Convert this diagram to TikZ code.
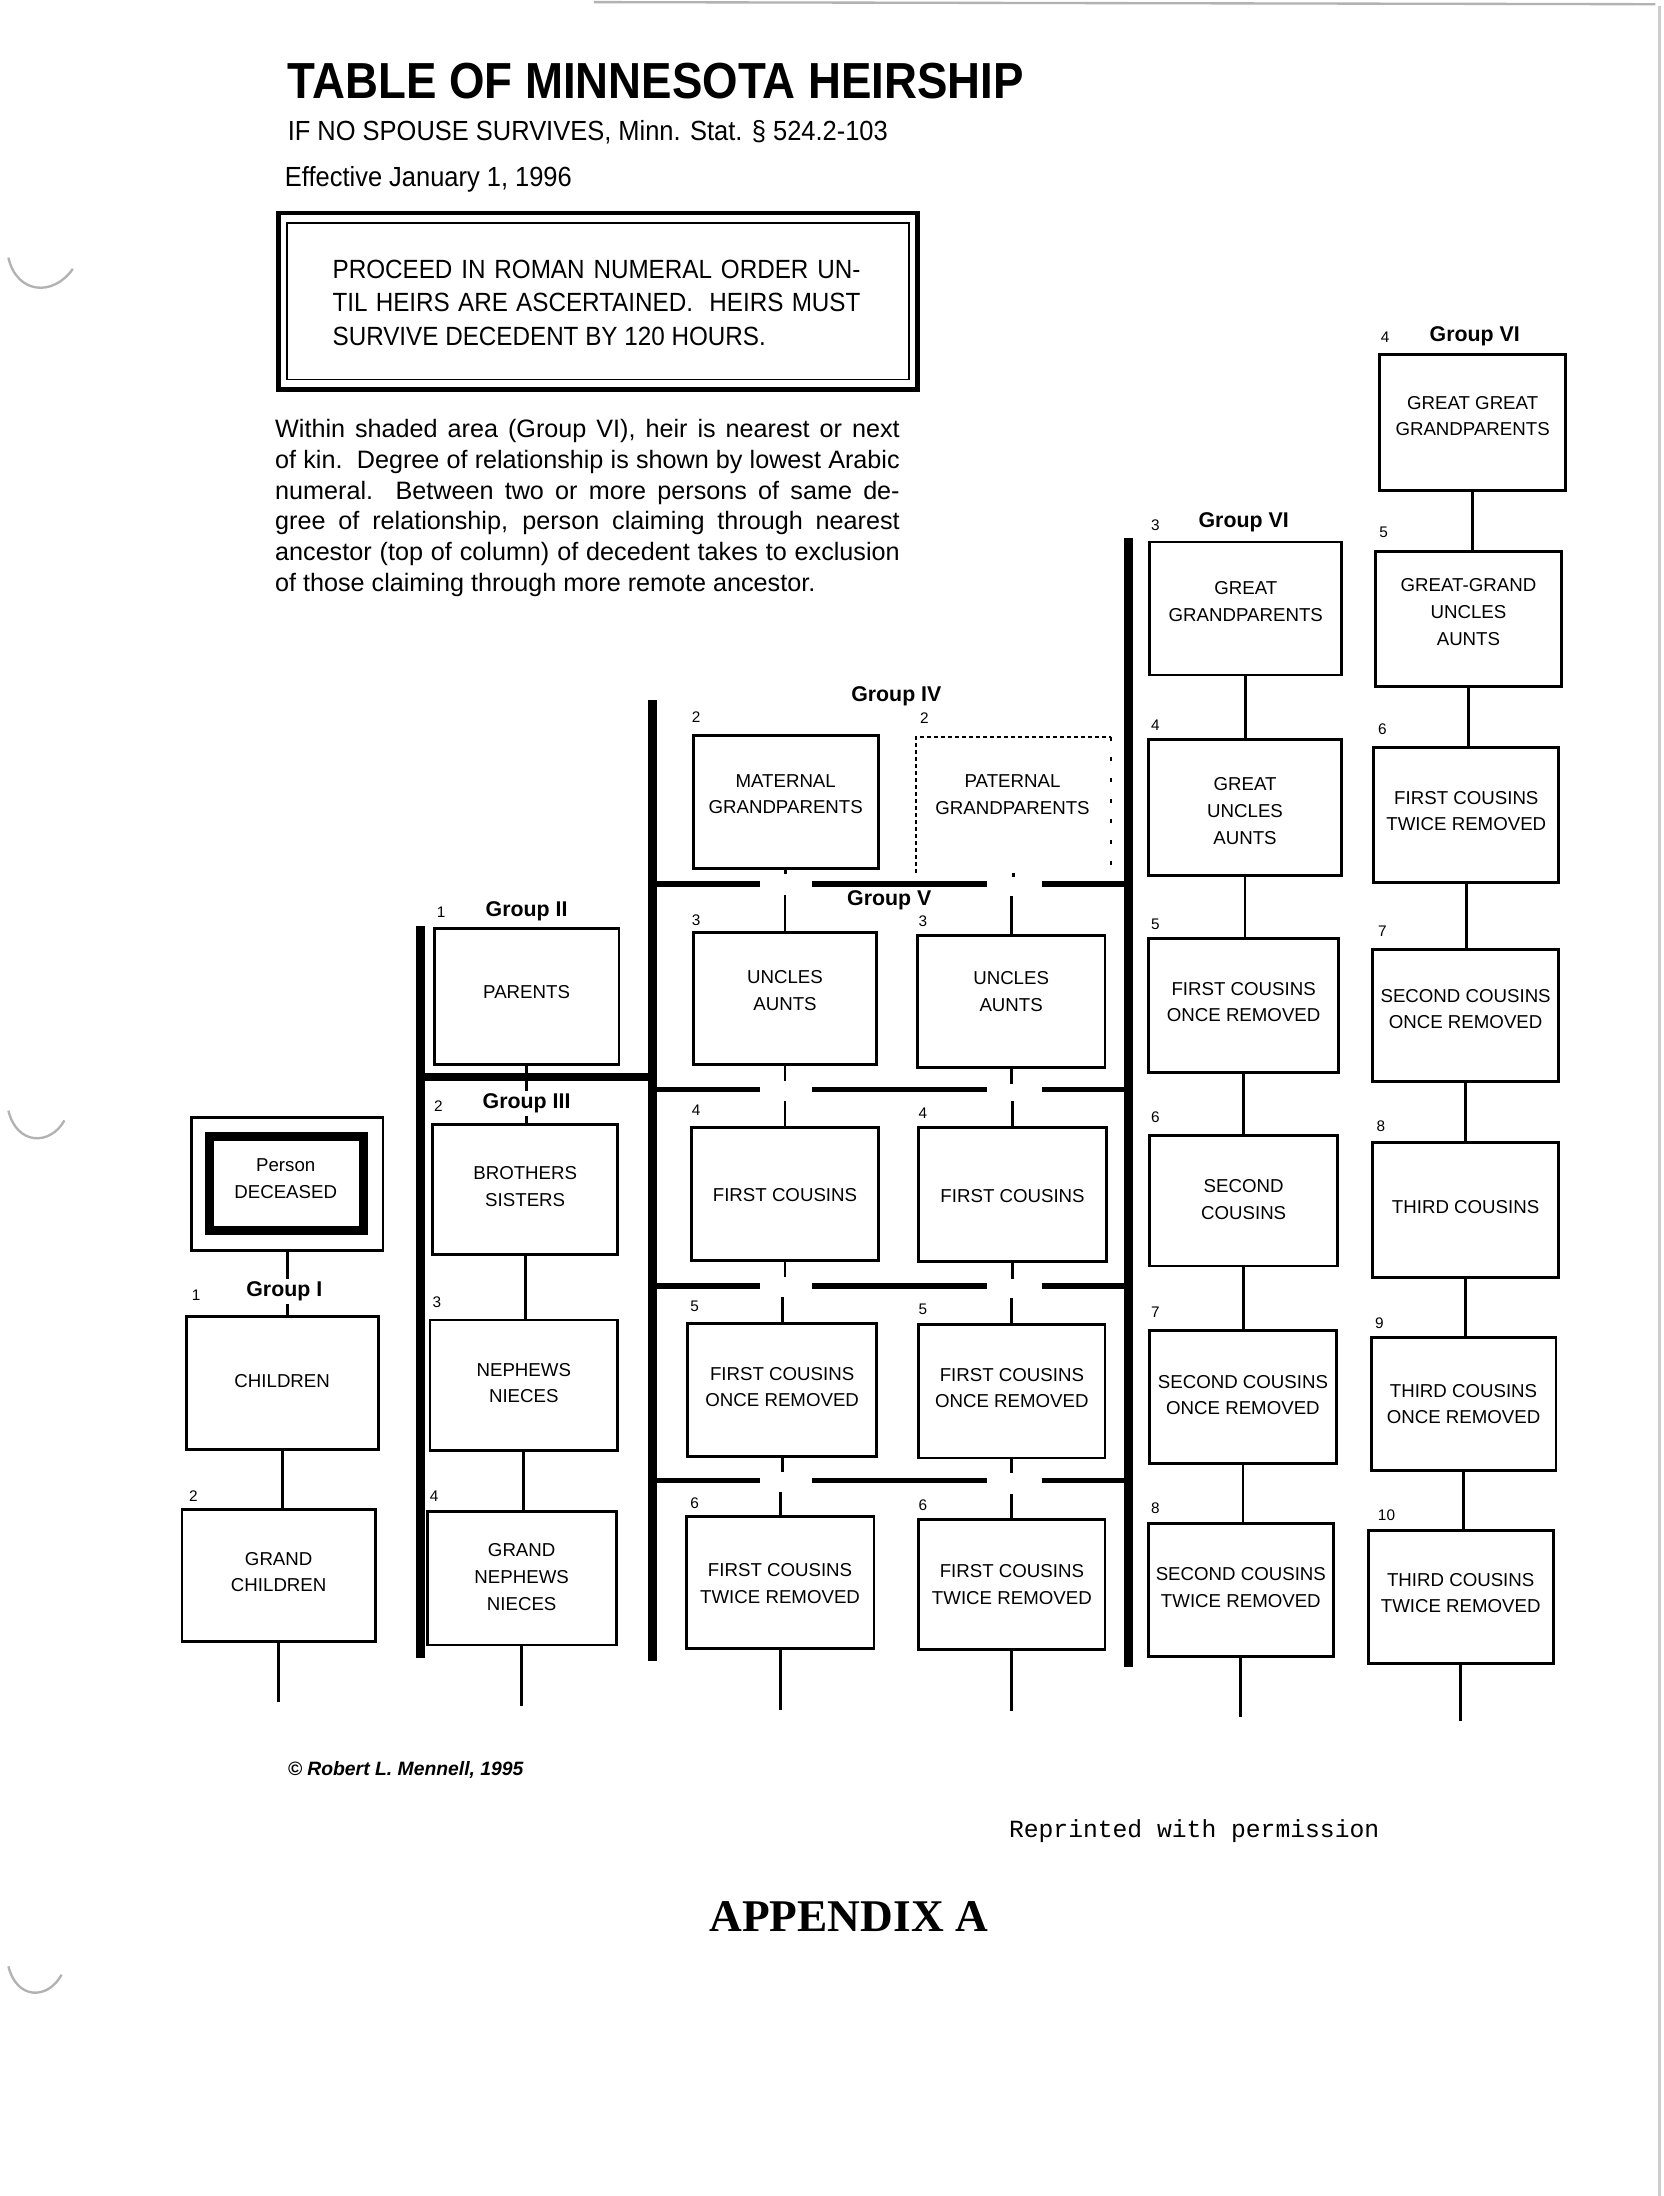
\documentclass[tikz,border=0pt]{standalone}
\usepackage{fontspec}
\setmainfont{Liberation Sans}
\newfontfamily\myhdr[FakeStretch=0.92]{Liberation Sans}
\newfontfamily\myttl[FakeStretch=0.9]{Liberation Sans}
\newfontfamily\mymono{Liberation Mono}
\newfontfamily\myserif{Liberation Serif}
\newcommand\pxu{*0.42pt}
% name, x, y, width, height, text-centre y, text
\newcommand\kinbox[7]{\node[kin, minimum width=#4\pxu, minimum height=#5\pxu] (#1) at (#2,#3) {};
  \node[kintext] (#1t) at (#2,#6) {#7};}
\newcommand\degnum[4]{\node[deg] (#1) at (#2,#3) {#4};}
\begin{document}
\begin{tikzpicture}[x=0.42pt,y=-0.42pt,
  kin/.style={draw, line width=0.85pt, inner sep=0pt},
  kintext/.style={align=center, inner sep=0pt, font=\fontsize{5.6}{8}\selectfont},
  grp/.style={font=\bfseries\fontsize{6.4}{7}\selectfont, inner sep=0.8pt},
  grpw/.style={grp, fill=white},
  deg/.style={font=\fontsize{4.6}{5}\selectfont, inner sep=0pt},
  bar/.style={line width=2.7pt},
  divider/.style={line width=1.7pt},
  conn/.style={line width=0.85pt},
  artifact/.style={line width=0.7pt, black!30}]
\fill[white] (0,0) rectangle (1188,1568);
\useasboundingbox (0,0) rectangle (1188,1568);

% scan artifacts (page edges, punch-hole shadows)
\draw[artifact] (424,1.5) -- (1182,3);
\draw[artifact, black!20] (1185,4) -- (1185,1568);
\draw[artifact] (6,184) .. controls (12,210) and (38,212) .. (52,192);
\draw[artifact] (6,793) .. controls (12,818) and (36,818) .. (46,800);
\draw[artifact] (6,1404) .. controls (12,1428) and (34,1428) .. (44,1410);

% header
\node[anchor=base west, inner sep=0pt, font=\myttl\bfseries\fontsize{15.2}{18}\selectfont] (title) at (205,70) {TABLE OF MINNESOTA HEIRSHIP};
\node[anchor=base west, inner sep=0pt, font=\myhdr\fontsize{8.3}{10}\selectfont] (subtitle) at (205,100) {IF NO SPOUSE SURVIVES, Minn. Stat. § 524.2-103};
\node[anchor=base west, inner sep=0pt, font=\myhdr\fontsize{8.3}{10}\selectfont] (effective) at (203,133) {Effective January 1, 1996};

% note box
\node[draw, line width=1.4pt, minimum width=456\pxu, minimum height=126\pxu, inner sep=0pt] (notebox) at (427,215) {};
\node[draw, line width=0.5pt, minimum width=444\pxu, minimum height=112\pxu, inner sep=0pt] (noteinner) at (427,215) {};
\node[anchor=north west, inner sep=0pt, text width=158.3pt, align=justify, font=\myhdr\fontsize{7.9}{10.1}\selectfont] (note) at (237,185)
  {PROCEED IN ROMAN NUMERAL ORDER UN-\linebreak TIL HEIRS ARE ASCERTAINED.\ \ HEIRS MUST\linebreak SURVIVE DECEDENT BY 120 HOURS.};

% paragraph
\node[anchor=north west, inner sep=0pt, text width=187.3pt, align=justify, font=\fontsize{7.55}{9.2}\selectfont] (para) at (196,299)
  {Within shaded area (Group VI), heir is nearest or next\linebreak of kin.\ \ Degree of relationship is shown by lowest Arabic\linebreak numeral.\ \ Between two or more persons of same de-\linebreak gree of relationship, person claiming through nearest\linebreak ancestor (top of column) of decedent takes to exclusion\linebreak of those claiming through more remote ancestor.};

% ---------- Group I ----------
\node[draw, line width=0.85pt, minimum width=137\pxu, minimum height=95\pxu, inner sep=0pt] (dec) at (205,845.5) {};
\node[draw, line width=2.9pt, minimum width=110\pxu, minimum height=67\pxu, inner sep=0pt] (decin) at (204.5,845) {};
\node[kintext] (dect) at (204,841.5) {Person\\DECEASED};
\kinbox{children}{201.5}{987.5}{137}{95}{986}{CHILDREN}
\kinbox{grandch}{199}{1125}{138}{94}{1122.5}{GRAND\\CHILDREN}
\coordinate (tailI) at (200,1215);
\draw[conn] (dec.south) -- (dec.south |- children.north);
\draw[conn] (children.south) -- (children.south |- grandch.north);
\draw[conn] (grandch.south) -- (grandch.south |- tailI);
\node[grpw] (gI) at (203,922) {Group I};
\degnum{dIa}{140}{925}{1}
\degnum{dIb}{138}{1068}{2}

% ---------- Group II / III ----------
\coordinate (barAt) at (300,661); \coordinate (barAb) at (300,1184);
\draw[bar] (barAt) -- (barAb);
\coordinate (divAl) at (300,769); \coordinate (divAr) at (466,769);
\draw[line width=2.2pt] (divAl) -- (divAr);
\kinbox{parents}{376}{711.5}{132}{97}{708}{PARENTS}
\kinbox{brothers}{375}{849.5}{132}{93}{847}{BROTHERS\\SISTERS}
\kinbox{nephews}{374}{989}{134}{93}{987.5}{NEPHEWS\\NIECES}
\kinbox{grandneph}{372.5}{1127}{135}{95}{1126}{GRAND\\NEPHEWS\\NIECES}
\coordinate (tailII) at (371,1218);
\draw[conn] (parents.south) -- (parents.south |- brothers.north);
\draw[conn] (brothers.south) -- (brothers.south |- nephews.north);
\draw[conn] (nephews.south) -- (nephews.south |- grandneph.north);
\draw[conn] (grandneph.south) -- (grandneph.south |- tailII);
\node[grp] (gII) at (376,651) {Group II};
\node[grpw] (gIII) at (376,788) {Group III};
\degnum{dIIa}{315}{651}{1}
\degnum{dIIb}{313}{790}{2}
\degnum{dIIc}{312}{930}{3}
\degnum{dIId}{310}{1068}{4}

% ---------- Group IV / V ----------
\coordinate (barBt) at (466,500); \coordinate (barBb) at (466,1186);
\coordinate (barCt) at (806,384); \coordinate (barCb) at (806,1190);
\draw[bar] (barBt) -- (barBb);
\draw[bar] (barCt) -- (barCb);
\foreach \yy in {631,778,918,1057} {
  \draw[divider] (466,\yy) -- (543,\yy);
  \draw[divider] (580,\yy) -- (705,\yy);
  \draw[divider] (744,\yy) -- (806,\yy);
}
\node[grp] (gIV) at (640,497) {Group IV};
\kinbox{matgp}{561}{572.5}{132}{95}{567}{MATERNAL\\GRANDPARENTS}
\node[kin, draw=none, minimum width=137\pxu, minimum height=95\pxu] (patgp) at (723.5,574.5) {};
\node[kintext] (patgpt) at (723,567.5) {PATERNAL\\GRANDPARENTS};
\draw[line width=0.6pt, dash pattern=on 1.2pt off 0.9pt] (patgp.south west) -- (patgp.north west) -- (patgp.north east);
\draw[line width=0.6pt, dash pattern=on 1.2pt off 5pt] (patgp.north east) -- (patgp.south east);
\node[grp] (gV) at (635,643) {Group V};
\kinbox{uncL}{560.5}{713}{131}{94}{707.5}{UNCLES\\AUNTS}
\kinbox{uncR}{722}{715}{134}{94}{708}{UNCLES\\AUNTS}
\kinbox{fcL}{560.5}{852.5}{133}{95}{853}{FIRST COUSINS}
\kinbox{fcR}{723}{853}{134}{96}{854}{FIRST COUSINS}
\kinbox{fcaL}{558.5}{992.5}{135}{95}{990.5}{FIRST COUSINS\\ONCE REMOVED}
\kinbox{fcaR}{722.5}{993.5}{133}{95}{991}{FIRST COUSINS\\ONCE REMOVED}
\kinbox{fcbL}{557}{1130}{134}{94}{1130.5}{FIRST COUSINS\\TWICE REMOVED}
\kinbox{fcbR}{722.5}{1131.5}{133}{93}{1131.5}{FIRST COUSINS\\TWICE REMOVED}
\draw[conn] (matgp.south) -- ++(0,3);
\draw[conn] (uncL.north) -- ++(0,-26);
\draw[conn] (patgp.south) -- ++(0,3);
\draw[conn] (uncR.north) -- ++(0,-27);
\draw[conn] (uncL.south) -- ++(0,11);  \draw[conn] (fcL.north) -- ++(0,-18);
\draw[conn] (uncR.south) -- ++(0,11);  \draw[conn] (fcR.north) -- ++(0,-18);
\draw[conn] (fcL.south) -- ++(0,11);   \draw[conn] (fcaL.north) -- ++(0,-18);
\draw[conn] (fcR.south) -- ++(0,11);   \draw[conn] (fcaR.north) -- ++(0,-18);
\draw[conn] (fcaL.south) -- ++(0,10);  \draw[conn] (fcbL.north) -- ++(0,-17);
\draw[conn] (fcaR.south) -- ++(0,10);  \draw[conn] (fcbR.north) -- ++(0,-17);
\coordinate (tailIVL) at (557,1221); \coordinate (tailIVR) at (720,1222);
\draw[conn] (fcbL.south) -- (fcbL.south |- tailIVL);
\draw[conn] (fcbR.south) -- (fcbR.south |- tailIVR);
\degnum{dIVa}{497}{512}{2}
\degnum{dIVb}{660}{513}{2}
\degnum{dVa}{497}{657}{3}
\degnum{dVb}{659}{658}{3}
\degnum{dVc}{497}{793}{4}
\degnum{dVd}{659}{795}{4}
\degnum{dVe}{496}{933}{5}
\degnum{dVf}{659}{935}{5}
\degnum{dVg}{496}{1073}{6}
\degnum{dVh}{659}{1075}{6}

% ---------- Group VI (column A) ----------
\node[grp] (gVIa) at (888,373) {Group VI};
\kinbox{ggp}{889.5}{434.5}{137}{95}{429.5}{GREAT\\GRANDPARENTS}
\kinbox{gua}{889}{576.5}{138}{97}{579}{GREAT\\UNCLES\\AUNTS}
\kinbox{fcaA}{888}{718}{136}{96}{715.5}{FIRST COUSINS\\ONCE REMOVED}
\kinbox{scA}{888}{857.5}{134}{93}{856.5}{SECOND\\COUSINS}
\kinbox{scaA}{887.5}{997.5}{133}{95}{996}{SECOND COUSINS\\ONCE REMOVED}
\kinbox{scbA}{886}{1135.5}{132}{95}{1133.5}{SECOND COUSINS\\TWICE REMOVED}
\coordinate (tailVIa) at (885,1226);
\draw[conn] (ggp.south) -- (ggp.south |- gua.north);
\draw[conn] (gua.south) -- (gua.south |- fcaA.north);
\draw[conn] (fcaA.south) -- (fcaA.south |- scA.north);
\draw[conn] (scA.south) -- (scA.south |- scaA.north);
\draw[conn] (scaA.south) -- (scaA.south |- scbA.north);
\draw[conn] (scbA.south) -- (scbA.south |- tailVIa);
\degnum{dVIa}{825}{375}{3}
\degnum{dVIb}{825}{518}{4}
\degnum{dVIc}{825}{660}{5}
\degnum{dVId}{825}{798}{6}
\degnum{dVIe}{825}{937}{7}
\degnum{dVIf}{825}{1077}{8}

% ---------- Group VI (column B) ----------
\node[grp] (gVIb) at (1053,240) {Group VI};
\kinbox{gggp}{1051.5}{301.5}{133}{97}{297}{GREAT GREAT\\GRANDPARENTS}
\kinbox{ggua}{1048.5}{442}{133}{96}{437}{GREAT-GRAND\\UNCLES\\AUNTS}
\kinbox{fcbB}{1047}{582}{132}{96}{579}{FIRST COUSINS\\TWICE REMOVED}
\kinbox{scaB}{1046.5}{725}{133}{94}{720.5}{SECOND COUSINS\\ONCE REMOVED}
\kinbox{tcB}{1046.5}{864}{133}{96}{862}{THIRD COUSINS}
\kinbox{tcaB}{1045}{1002.5}{132}{95}{1002.5}{THIRD COUSINS\\ONCE REMOVED}
\kinbox{tcbB}{1043}{1140.5}{132}{95}{1137.5}{THIRD COUSINS\\TWICE REMOVED}
\coordinate (tailVIb) at (1042,1229);
\draw[conn] (gggp.south) -- (gggp.south |- ggua.north);
\draw[conn] (ggua.south) -- (ggua.south |- fcbB.north);
\draw[conn] (fcbB.south) -- (fcbB.south |- scaB.north);
\draw[conn] (scaB.south) -- (scaB.south |- tcB.north);
\draw[conn] (tcB.south) -- (tcB.south |- tcaB.north);
\draw[conn] (tcaB.south) -- (tcaB.south |- tcbB.north);
\draw[conn] (tcbB.south) -- (tcbB.south |- tailVIb);
\degnum{dVIg}{989}{241}{4}
\degnum{dVIh}{988}{380}{5}
\degnum{dVIi}{987}{521}{6}
\degnum{dVIj}{987}{665}{7}
\degnum{dVIk}{986}{804}{8}
\degnum{dVIl}{985}{945}{9}
\degnum{dVIm}{990}{1082}{10}

% ---------- footer ----------
\node[anchor=base west, inner sep=0pt, font=\bfseries\itshape\fontsize{5.8}{7}\selectfont] (copy) at (205,1268) {© Robert L. Mennell, 1995};
\node[anchor=base west, inner sep=0pt, font=\mymono\fontsize{7.4}{9}\selectfont] (reprint) at (720,1312) {Reprinted with permission};
\node[anchor=base, inner sep=0pt, font=\myserif\bfseries\fontsize{13.6}{16}\selectfont] (appendix) at (606,1379) {APPENDIX A};
\end{tikzpicture}
\end{document}
